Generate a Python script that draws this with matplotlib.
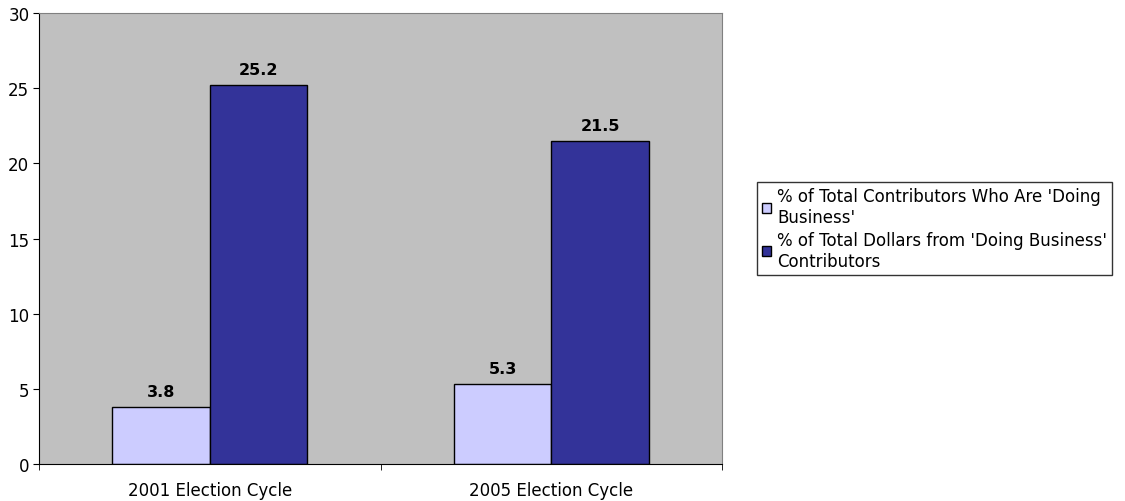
import numpy as np
import matplotlib.pyplot as plt

# Election cycles and the two "doing business" shares (percent)
cycles = ['2001 Election Cycle', '2005 Election Cycle']
pct_contributors = [3.8, 5.3]
pct_dollars = [25.2, 21.5]
series_names = ["% of Total Contributors Who Are 'Doing\nBusiness'",
                "% of Total Dollars from 'Doing Business'\nContributors"]

plt.rcParams['font.family'] = 'DejaVu Sans'

fig = plt.figure(figsize=(11.25, 5.02), dpi=100)
ax = fig.add_axes([0.0347, 0.0737, 0.6071, 0.8984])
ax.set_facecolor('#C0C0C0')

x = np.arange(len(cycles))
w = 0.2855
b1 = ax.bar(x - w/2, pct_contributors, w, color='#CCCCFF', edgecolor='black', linewidth=1, label=series_names[0])
b2 = ax.bar(x + w/2, pct_dollars, w, color='#333399', edgecolor='black', linewidth=1, label=series_names[1])

for bars, vals in ((b1, pct_contributors), (b2, pct_dollars)):
    for bar, v in zip(bars, vals):
        ax.text(bar.get_x() + bar.get_width()/2, v + 0.55, f'{v:.1f}',
                ha='center', va='bottom', fontsize=11.5, fontweight='bold')

ax.set_xlim(-0.5, 1.5)
ax.set_ylim(0, 30)
ax.set_yticks(range(0, 31, 5))
ax.set_xticks(x)
ax.set_xticklabels(cycles, fontsize=12)
ax.set_xticks([-0.5, 0.5, 1.5], minor=True)
ax.tick_params(axis='x', which='major', length=0, pad=12)
ax.tick_params(axis='x', which='minor', length=4, direction='out')
ax.tick_params(axis='y', length=4, direction='out', labelsize=12, pad=3)

for side in ('top', 'right'):
    ax.spines[side].set_color('#808080')
ax.spines['left'].set_color('black')
ax.spines['bottom'].set_color('black')

leg = fig.legend(loc='center left', bbox_to_anchor=(0.673, 0.543), borderaxespad=0,
                 fontsize=12, frameon=True, fancybox=False, edgecolor='black',
                 handlelength=0.55, handleheight=0.55, handletextpad=0.35,
                 borderpad=0.3, labelspacing=0.3)
leg.get_frame().set_linewidth(1)

fig.savefig('out.png', dpi=100)
